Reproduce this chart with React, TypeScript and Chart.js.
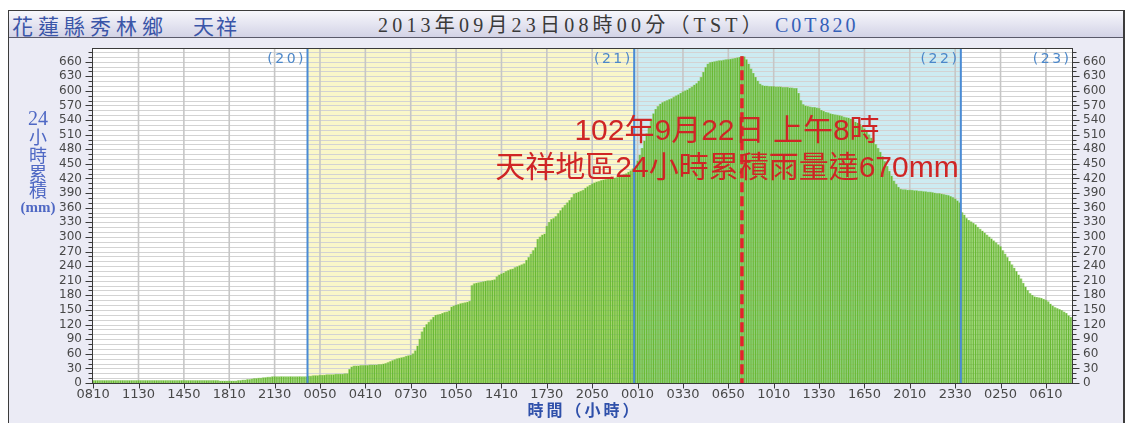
import React, { useEffect, useRef } from 'react';
import { Chart, registerables } from 'chart.js';

Chart.register(...registerables);

// 24-hour accumulated rainfall (mm), one bar per 10 minutes, 09/20 08:10 -> 09/23 08:00
const DAY20_VALUES = [
  5, 5, 5, 5, 5, 5, 5, 5, 5, 5, 5, 5, 5, 5, 5, 5, 5, 5, 5, 5,
  5, 5, 5, 5, 5, 5, 5, 5, 5, 5, 5, 5, 5, 5, 5, 5, 5, 5, 5, 5,
  5, 5, 5, 5, 5, 5, 5, 5, 5, 5, 5, 5, 5, 5, 5, 5,
  4, 4, 4, 4, 4, 4, 4,
  4, 5, 5, 6, 6, 7, 7, 8,
  9, 9, 10, 10, 11, 11, 12, 12,
  13, 13, 13, 13, 13, 13, 13, 13, 13, 13, 13, 13, 13, 13, 13, 13,
];

const DAY21_VALUES = [
  14, 14, 15, 15, 15, 16, 16, 16, 17, 17, 17, 17, 18, 18, 18, 18, 19, 19,
  28, 33, 35, 35, 35, 36, 36, 36, 36, 37, 37, 37, 37, 38,
  38, 39, 40, 42, 44, 46, 48, 50, 51, 52, 53, 55, 56, 57,
  60, 66, 76, 90, 105, 114, 120, 125, 130,
  135, 139, 140, 141, 143, 145, 146, 148,
  156, 158, 160, 161, 163, 164, 165, 166, 168,
  200, 204, 205, 206, 207, 208, 209, 210, 210, 211, 212,
  218, 222, 224, 226, 229, 231, 233, 234,
  237, 239, 241, 243, 245,
  252, 258, 265, 272, 278,
  295, 300, 304, 306,
  322, 330, 336, 338, 342, 348, 354, 360,
  365, 370, 375, 381,
  388, 390, 392, 394, 396,
  400, 403, 406, 409, 411,
  413, 414, 416, 417, 418, 419, 420, 420, 421, 422, 424, 426, 428, 430, 433, 436, 440,
];

const DAY22_VALUES = [
  446, 456, 468, 482, 497, 512, 527, 541, 553, 562, 568, 573,
  576, 578, 580, 582, 584, 587, 590, 592,
  595, 598, 600, 602, 605, 608, 612, 615, 620,
  628, 638, 648, 655, 658,
  659, 660, 661, 662, 662, 663, 664, 664, 665, 666,
  667, 668, 669, 671, 670,
  664, 655, 645, 636, 628, 620, 614,
  611, 610, 610, 609, 609, 609, 608, 608, 608, 607, 607, 607, 606, 606, 605, 605,
  595, 580, 572,
  569, 568, 567, 566, 566, 565, 564,
  560, 558, 556, 555, 553, 552, 551, 550, 549, 548, 546, 545, 544, 542, 541,
  536, 534, 531, 527, 522, 516, 510, 503, 497,
  490, 482, 474, 465, 455, 445, 435, 425, 415, 408, 402, 398,
  397, 397, 396, 396, 396, 395, 395, 394, 394, 393, 393, 392, 392, 391, 390, 389, 389, 388,
  387, 386, 385, 383, 381, 378, 374, 370,
];

const DAY23_VALUES = [
  350, 345, 338, 334, 331, 328, 325,
  320, 316, 312, 308, 304, 300, 296, 292, 288, 284, 280,
  272, 265, 258, 250, 243, 236, 229, 222, 214,
  205, 197, 190, 184, 180, 177, 176, 175, 174,
  172, 170, 167, 162, 158, 155, 153, 151, 149, 146, 143, 138, 135,
];

const VALUES = [...DAY20_VALUES, ...DAY21_VALUES, ...DAY22_VALUES, ...DAY23_VALUES];

const START_MINUTES = 8 * 60 + 10;
const STEP_MINUTES = 10;

const CATEGORIES = VALUES.map((_, i) => {
  const m = (START_MINUTES + i * STEP_MINUTES) % 1440;
  return String(Math.floor(m / 60)).padStart(2, '0') + String(m % 60).padStart(2, '0');
});

const X_TICK_LABELS = [
  '0810', '1130', '1450', '1810', '2130', '0050', '0410', '0730', '1050', '1410', '1730',
  '2050', '0010', '0330', '0650', '1010', '1330', '1650', '2010', '2330', '0250', '0610',
];
const X_TICK_EVERY = 20;

const Y_TICKS = [0, 30, 60, 90, 120, 150, 180, 210, 240, 270, 300, 330, 360, 390, 420, 450, 480, 510, 540, 570, 600, 630, 660];
const Y_MAX = 688;
const Y_MINOR_STEP = 10;

const DAY_TAGS = ['(20)', '(21)', '(22)', '(23)'];
const ANNOTATION_LINES = ['102年9月22日 上午8時', '天祥地區24小時累積雨量達670mm'];
const Y_TITLE_PARTS = ['24', '小', '時', '累', '積', '(mm)'];
const X_TITLE = '時間（小時）';
const HEADER_PLACE = '花蓮縣秀林鄉';
const HEADER_STATION = '天祥';
const HEADER_TIME = '2013年09月23日08時00分（TST）';
const HEADER_CODE = 'C0T820';

const DAY_STARTS = CATEGORIES.map((c, i) => (c === '0000' ? i : -1)).filter((i) => i >= 0);
const PEAK_INDEX = VALUES.indexOf(Math.max(...VALUES));

const X_LABEL_FONT = { family: '"DejaVu Sans", sans-serif', size: 13 };
const Y_LABEL_FONT = { family: '"DejaVu Sans", sans-serif', size: 12 };

function drawSpaced(ctx: CanvasRenderingContext2D, text: string, x: number, y: number, spacing: number, align: string) {
  const chars = Array.from(text);
  const widths = chars.map((c) => ctx.measureText(c).width);
  const total = widths.reduce((s, w) => s + w, 0) + spacing * (chars.length - 1);
  let cx = align === 'right' ? x - total : align === 'center' ? x - total / 2 : x;
  ctx.textAlign = 'left';
  chars.forEach((c, i) => {
    ctx.fillText(c, cx, y);
    cx += widths[i] + spacing;
  });
}

function seg(ctx: CanvasRenderingContext2D, x1: number, y1: number, x2: number, y2: number) {
  ctx.beginPath();
  ctx.moveTo(x1, y1);
  ctx.lineTo(x2, y2);
  ctx.stroke();
}

const decorPlugin = {
  id: 'decor',
  beforeDraw(chart: any) {
    const { ctx, chartArea: a, scales } = chart;
    const xs = scales.x;
    const ys = scales.y;
    const n = VALUES.length;
    const pitch = (a.right - a.left) / n;
    const edge = (i: number) => xs.getPixelForValue(i) - pitch / 2;
    ctx.save();
    ctx.fillStyle = '#ffffff';
    ctx.fillRect(a.left, a.top, a.right - a.left, a.bottom - a.top);
    ctx.fillStyle = '#FAF7C9';
    ctx.fillRect(edge(DAY_STARTS[0]), a.top, edge(DAY_STARTS[1]) - edge(DAY_STARTS[0]), a.bottom - a.top);
    ctx.fillStyle = '#CDEBF1';
    ctx.fillRect(edge(DAY_STARTS[1]), a.top, edge(DAY_STARTS[2]) - edge(DAY_STARTS[1]), a.bottom - a.top);
    ctx.strokeStyle = '#D3D3D3';
    ctx.lineWidth = 1;
    for (let v = Y_MINOR_STEP; v < Y_MAX; v += Y_MINOR_STEP) {
      const py = Math.round(ys.getPixelForValue(v)) + 0.5;
      seg(ctx, a.left, py, a.right, py);
    }
    ctx.strokeStyle = '#C6C6C6';
    ctx.lineWidth = 1.6;
    for (let i = X_TICK_EVERY; i < n; i += X_TICK_EVERY) {
      const px = xs.getPixelForValue(i);
      seg(ctx, px, a.top, px, a.bottom);
    }
    ctx.restore();
  },
  afterDatasetsDraw(chart: any) {
    const { ctx, chartArea: a, scales } = chart;
    const xs = scales.x;
    const ys = scales.y;
    const n = VALUES.length;
    const pitch = (a.right - a.left) / n;
    const edge = (i: number) => xs.getPixelForValue(i) - pitch / 2;
    ctx.save();

    // day boundaries
    ctx.strokeStyle = '#4A8BD4';
    ctx.lineWidth = 2;
    DAY_STARTS.forEach((i) => {
      const px = edge(i);
      seg(ctx, px, a.top, px, a.bottom);
    });

    // peak marker
    ctx.strokeStyle = '#E3222B';
    ctx.lineWidth = 3.5;
    ctx.setLineDash([10, 4]);
    const pk = xs.getPixelForValue(PEAK_INDEX);
    seg(ctx, pk, ys.getPixelForValue(VALUES[PEAK_INDEX]), pk, a.bottom);
    ctx.setLineDash([]);

    // frame
    ctx.strokeStyle = '#3a3a3a';
    ctx.lineWidth = 1;
    const L = Math.round(a.left) + 0.5;
    const R = Math.round(a.right) + 0.5;
    const T = Math.round(a.top) + 0.5;
    const B = Math.round(a.bottom) + 0.5;
    ctx.strokeRect(L, T, R - L, B - T);

    // y tick marks (major every 30, minor every 10)
    for (let v = 0; v <= Y_MAX; v += Y_MINOR_STEP) {
      const py = Math.round(ys.getPixelForValue(v)) + 0.5;
      const len = v % 30 === 0 ? 7 : 4;
      seg(ctx, L - len, py, L, py);
      seg(ctx, R, py, R + len, py);
    }
    // x tick marks
    for (let i = 0; i < n; i += X_TICK_EVERY) {
      const px = Math.round(xs.getPixelForValue(i)) + 0.5;
      seg(ctx, px, B, px, B + 5);
    }

    // day tags
    ctx.fillStyle = '#4C87C9';
    ctx.font = '14px "DejaVu Sans", sans-serif';
    ctx.textBaseline = 'middle';
    DAY_TAGS.forEach((t, k) => {
      const x = k < DAY_STARTS.length ? edge(DAY_STARTS[k]) - 4 : a.right - 3;
      drawSpaced(ctx, t, x, a.top + 11, 2.5, 'right');
    });

    // annotation
    ctx.fillStyle = '#CF2525';
    ctx.font = '30px "Liberation Sans", "Noto Sans CJK TC", sans-serif';
    ctx.textAlign = 'center';
    ctx.fillText(ANNOTATION_LINES[0], 727, 132);
    ctx.fillText(ANNOTATION_LINES[1], 727, 169);

    // vertical y title
    ctx.fillStyle = '#4F68C4';
    Y_TITLE_PARTS.forEach((p, k) => {
      if (p === '24') ctx.font = '20px "Liberation Serif", serif';
      else if (p === '(mm)') ctx.font = 'bold 15px "Liberation Serif", serif';
      else ctx.font = '18px "Noto Sans CJK TC", sans-serif';
      ctx.textAlign = 'center';
      ctx.fillText(p, 38, 120 + k * 17.6);
    });

    // x title
    ctx.fillStyle = '#2F50AA';
    ctx.font = 'bold 16px "Noto Sans CJK TC", sans-serif';
    drawSpaced(ctx, X_TITLE, 583, 410, 3, 'center');

    ctx.restore();
  },
};

export default function App() {
  const ref = useRef<HTMLCanvasElement>(null);

  useEffect(() => {
    if (!ref.current) return;
    const chart = new Chart(ref.current, {
      type: 'bar',
      data: {
        labels: CATEGORIES,
        datasets: [
          {
            data: VALUES,
            backgroundColor: '#68B933',
            barPercentage: 0.52,
            categoryPercentage: 1,
            grouped: false,
            order: 0,
            borderWidth: 0,
          } as any,
          {
            data: VALUES,
            backgroundColor: 'rgba(110,190,55,0.45)',
            barPercentage: 1,
            categoryPercentage: 1,
            grouped: false,
            order: 1,
            borderWidth: 0,
          } as any,
        ],
      },
      options: {
        animation: false,
        responsive: false,
        devicePixelRatio: 1,
        layout: { padding: { top: 48, left: 0, right: 0, bottom: 0 } },
        plugins: {
          legend: { display: false },
          tooltip: { enabled: false },
          title: { display: false },
        },
        scales: {
          x: {
            offset: true,
            grid: { display: false, drawTicks: false },
            border: { display: false },
            ticks: {
              autoSkip: false,
              maxRotation: 0,
              minRotation: 0,
              padding: 4,
              color: '#484848',
              font: X_LABEL_FONT,
              callback: (_v: any, index: number) => X_TICK_LABELS[index] ?? '',
            },
            afterBuildTicks: (s: any) => {
              s.ticks = X_TICK_LABELS.map((_, k) => ({ value: k * X_TICK_EVERY }));
            },
            afterFit: (s: any) => {
              s.height = 40;
            },
          },
          y: {
            position: 'left',
            min: 0,
            max: Y_MAX,
            grid: { display: false, drawTicks: false },
            border: { display: false },
            ticks: { autoSkip: false, padding: 10, color: '#484848', font: Y_LABEL_FONT },
            afterBuildTicks: (s: any) => {
              s.ticks = Y_TICKS.map((v) => ({ value: v }));
            },
            afterFit: (s: any) => {
              s.width = 92;
            },
          },
          y2: {
            position: 'right',
            min: 0,
            max: Y_MAX,
            grid: { display: false, drawTicks: false },
            border: { display: false },
            ticks: { autoSkip: false, padding: 11, color: '#484848', font: Y_LABEL_FONT },
            afterBuildTicks: (s: any) => {
              s.ticks = Y_TICKS.map((v) => ({ value: v }));
            },
            afterFit: (s: any) => {
              s.width = 56;
            },
          },
        },
      } as any,
      plugins: [decorPlugin],
    });
    return () => chart.destroy();
  }, []);

  const headerFont = '"Liberation Serif", "Noto Sans CJK TC", serif';
  return (
    <div style={{ position: 'absolute', left: 0, top: 0, width: 1128, height: 423, overflow: 'hidden', background: '#ffffff' }}>
      <div
        style={{
          position: 'absolute',
          left: 8,
          top: 10,
          width: 1114,
          height: 413,
          background: '#EBEBF5',
          borderTop: '1px solid #3c3c3c',
          borderLeft: '1px solid #3c3c3c',
          borderRight: '2px solid #3c3c3c',
        }}
      >
        <div style={{ height: 26, background: 'linear-gradient(#F7F7FC, #D3D3E6)', borderBottom: '1px solid #5a5a6a' }} />
      </div>
      <div style={{ position: 'absolute', left: 12, top: 13, lineHeight: '24px', fontSize: 21, letterSpacing: 5, color: '#3A55A8', fontFamily: '"Noto Sans CJK TC", sans-serif', whiteSpace: 'nowrap' }}>
        {HEADER_PLACE}
      </div>
      <div style={{ position: 'absolute', left: 193, top: 13, lineHeight: '24px', fontSize: 21, letterSpacing: 2, color: '#3A55A8', fontFamily: '"Noto Sans CJK TC", sans-serif', whiteSpace: 'nowrap' }}>
        {HEADER_STATION}
      </div>
      <div style={{ position: 'absolute', left: 378, top: 13, lineHeight: '24px', fontSize: 20, letterSpacing: 4.2, color: '#3a3a3a', fontFamily: headerFont, whiteSpace: 'nowrap' }}>
        {HEADER_TIME}
      </div>
      <div style={{ position: 'absolute', left: 775, top: 13, lineHeight: '24px', fontSize: 20, letterSpacing: 3, color: '#3560B8', fontFamily: headerFont, whiteSpace: 'nowrap' }}>
        {HEADER_CODE}
      </div>
      <canvas ref={ref} width={1128} height={423} style={{ position: 'absolute', left: 0, top: 0 }} />
    </div>
  );
}
